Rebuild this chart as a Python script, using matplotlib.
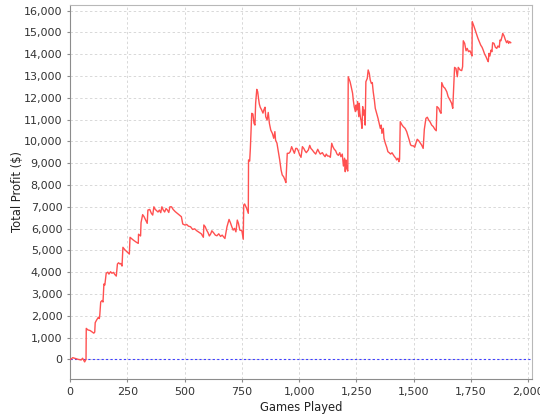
import matplotlib
matplotlib.use("Agg")
import matplotlib.pyplot as plt
from matplotlib.ticker import FuncFormatter, MultipleLocator

# (games played, total profit $), in stretches
start_run = [
    (0, 0), (3, 0), (12, 75), (20, 50), (35, 0), (49, -30), (55, 50), (64, -120),
    (70, 0), (71, 1420), (78, 1350), (88, 1320), (97, 1250), (104, 1200),
    (108, 1250), (110, 1680), (116, 1800), (124, 1930), (128, 1870), (130, 2030),
    (134, 2630), (140, 2700), (144, 2630), (148, 3455), (152, 3410), (158, 3950),
    (165, 4000), (170, 3910), (177, 4020), (183, 3950), (190, 3990), (195, 3900),
    (202, 3820), (207, 4375), (212, 4430), (218, 4375), (222, 4400), (227, 4280),
    (231, 5140), (240, 5020), (248, 4940), (259, 4830),
]
plateau_run = [
    (262, 5600), (276, 5475), (290, 5370), (298, 5320), (299, 5740), (308, 5660),
    (310, 6270), (317, 6640), (323, 6550), (330, 6390), (337, 6240), (340, 6850),
    (348, 6880), (355, 6700), (361, 6620), (366, 7000), (372, 6880), (378, 6820),
    (384, 6760), (390, 6850), (396, 6730), (401, 7000), (407, 6850), (413, 6760),
    (419, 6920), (425, 6850), (431, 6740), (436, 7000), (443, 7000), (450, 6880),
    (459, 6780), (468, 6700), (477, 6620), (486, 6545),
]
dip_run = [
    (492, 6210), (502, 6160), (509, 6190), (517, 6110), (526, 6085), (535, 5960),
    (544, 5990), (553, 5900), (564, 5820), (573, 5760), (582, 5600), (584, 6165),
    (590, 6085), (596, 5930), (602, 5820), (608, 5660), (614, 5760), (619, 5900),
    (627, 5800), (634, 5700), (641, 5670), (649, 5760), (657, 5640), (664, 5700),
    (672, 5600), (676, 5545), (680, 5790), (685, 6085), (694, 6420), (700, 6270),
    (706, 6085), (712, 5930), (718, 6010), (724, 5850), (730, 6390), (735, 6240),
    (741, 5930), (750, 5900), (756, 5510),
]
jump_run = [
    (758, 7080), (762, 7130), (770, 6950), (778, 6700), (779, 9150), (784, 9100),
    (787, 9685), (793, 11290), (798, 11260), (803, 10830), (807, 10750),
    (810, 11750), (815, 12390), (819, 12280), (822, 12020), (826, 11720),
    (830, 11570), (836, 11450), (842, 11300), (846, 11450), (851, 11570),
    (854, 11135), (860, 10980), (865, 11330), (870, 10830), (876, 10520),
    (883, 10370), (889, 10145), (894, 10450), (897, 10060), (903, 9920),
    (909, 9530), (915, 9150), (921, 8690), (926, 8460), (932, 8380), (938, 8230),
    (942, 8110),
]
flat_run = [
    (948, 9455), (955, 9455), (961, 9530), (967, 9760), (973, 9610), (979, 9455),
    (985, 9680), (990, 9680), (996, 9575), (1002, 9380), (1008, 9270),
    (1014, 9760), (1020, 9680), (1025, 9575), (1031, 9485), (1040, 9610),
    (1046, 9820), (1051, 9680), (1057, 9610), (1066, 9485), (1072, 9420),
    (1081, 9640), (1086, 9530), (1092, 9420), (1101, 9485), (1107, 9380),
    (1113, 9300), (1118, 9420), (1124, 9330), (1130, 9330), (1136, 9270),
    (1142, 9915), (1147, 9760), (1153, 9640), (1159, 9575), (1165, 9420),
    (1171, 9360), (1177, 9485), (1182, 9300), (1188, 9420), (1193, 8870),
    (1198, 9230), (1201, 8610), (1204, 9150), (1207, 8770), (1212, 8640),
]
swing_run = [
    (1214, 12970), (1222, 12740), (1227, 12510), (1233, 12210), (1236, 11900),
    (1240, 11600), (1245, 11370), (1248, 11670), (1251, 11440), (1255, 11830),
    (1260, 11135), (1262, 11750), (1265, 11290), (1268, 11060), (1271, 10900),
    (1274, 10600), (1277, 11600), (1280, 11210), (1284, 11440), (1288, 10750),
    (1291, 12740), (1297, 12890), (1301, 13280), (1306, 13120), (1310, 12820),
    (1315, 12660), (1319, 12700), (1323, 12280), (1328, 11900), (1332, 11520),
    (1338, 11290), (1344, 11060), (1349, 10830), (1354, 10600), (1358, 10750),
    (1361, 10370), (1367, 10600), (1370, 10140), (1376, 9910), (1382, 9730),
    (1387, 9530), (1393, 9480), (1399, 9420), (1405, 9480), (1411, 9380),
    (1416, 9300), (1422, 9230), (1425, 9150), (1431, 9230), (1435, 9070),
    (1438, 9180),
]
climb_run = [
    (1441, 10905), (1449, 10750), (1454, 10680), (1462, 10600), (1469, 10450),
    (1475, 10250), (1480, 10070), (1486, 9840), (1492, 9800), (1498, 9800),
    (1504, 9730), (1510, 9945), (1515, 10100), (1521, 10040), (1527, 9945),
    (1534, 9840), (1541, 9680), (1546, 10555), (1553, 11060), (1559, 11110),
    (1565, 10980), (1571, 10900), (1578, 10750), (1585, 10680), (1592, 10555),
    (1598, 10490), (1601, 11600), (1609, 11520), (1614, 11370), (1619, 11290),
    (1622, 12700), (1629, 12510), (1636, 12440), (1644, 12280), (1650, 12050),
    (1658, 11900), (1665, 11750), (1670, 11520), (1678, 13400), (1684, 13350),
    (1690, 12970), (1694, 13400), (1702, 13280), (1709, 13250), (1713, 13430),
]
peak_run = [
    (1716, 14620), (1722, 14500), (1728, 14160), (1733, 14270), (1739, 14120),
    (1745, 14160), (1751, 14010), (1754, 13920), (1755, 15500), (1763, 15270),
    (1768, 15110), (1774, 14930), (1780, 14730), (1786, 14580), (1792, 14420),
    (1798, 14320), (1803, 14190), (1809, 14010), (1815, 13890), (1821, 13740),
    (1825, 13660), (1828, 14040), (1832, 13920), (1837, 14190), (1841, 14120),
    (1844, 14530), (1850, 14500), (1856, 14320), (1862, 14270), (1867, 14380),
    (1873, 14320), (1876, 14650), (1880, 14620), (1885, 14810), (1888, 14960),
    (1894, 14840), (1899, 14680), (1905, 14530), (1910, 14620), (1914, 14500),
    (1918, 14580), (1923, 14530),
]

x_ticks = [0, 250, 500, 750, 1000, 1250, 1500, 1750, 2000]

curve = start_run + plateau_run + dip_run + jump_run + flat_run + swing_run + climb_run + peak_run
games = [g for g, p in curve]
profit = [p for g, p in curve]

fig = plt.figure(figsize=(5.4, 4.2), dpi=100)
ax = fig.add_axes([0.1296, 0.0976, 0.8561, 0.8912])

ax.axhline(0, color="#4040ff", lw=0.8, ls=(0, (2, 2)), zorder=2)
ax.plot(games, profit, color="#ff5050", lw=1.0, zorder=3)

ax.set_xlim(0, 2017)
ax.set_ylim(-904, 16275)
ax.set_xticks(x_ticks)
ax.yaxis.set_major_locator(MultipleLocator(1000))
fmt = FuncFormatter(lambda v, p: f"{int(v):,}")
ax.xaxis.set_major_formatter(fmt)
ax.yaxis.set_major_formatter(fmt)

ax.grid(True, color="#d8d8d8", lw=0.7, ls=(0, (2.5, 2.5)))
ax.set_axisbelow(True)

for side in ["left", "bottom"]:
    ax.spines[side].set_color("#8c8c8c")
for side in ["top", "right"]:
    ax.spines[side].set_color("#b8b8b8")
ax.tick_params(colors="#8c8c8c", labelcolor="#333333", labelsize=8, length=2, width=0.8)

ax.set_xlabel("Games Played", fontsize=8.3, color="#222222")
ax.set_ylabel("Total Profit ($)", fontsize=8.3, color="#222222")
ax.xaxis.set_label_coords(0.5, -0.058)
ax.yaxis.set_label_coords(-0.10, 0.5)

fig.savefig("out.png", dpi=100, facecolor="white")
